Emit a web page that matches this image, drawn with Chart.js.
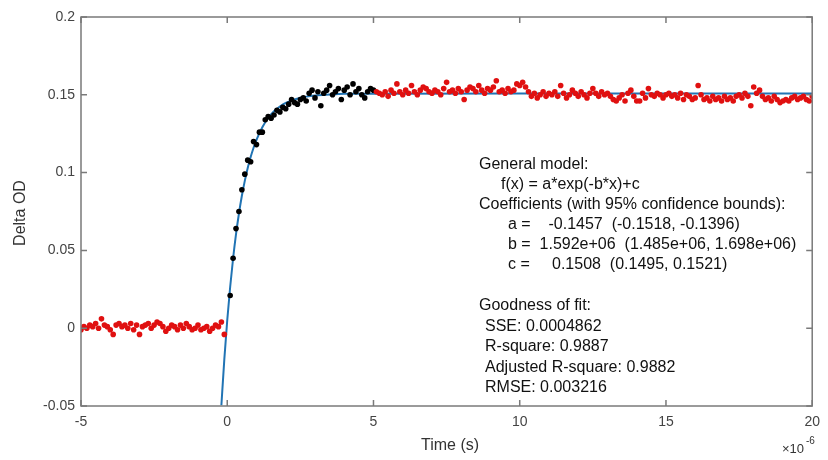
<!DOCTYPE html>
<html lang="en">
<head>
    <meta charset="UTF-8">
    <title>Delta OD fit</title>
    <script src="https://cdn.jsdelivr.net/npm/chart.js@4.4.0/dist/chart.umd.min.js"></script>
    <style>
        body { margin: 0; background: #fff; }
        #wrap { width: 828px; height: 460px; }
    </style>
</head>
<body>
    <div id="wrap"><canvas id="fitChart" width="828" height="460"></canvas></div>
    <script>
        // time in microseconds (axis shows x 10^-6 s)
        const tPre = [-5.0,-4.9,-4.8,-4.7,-4.6,-4.5,-4.4,-4.3,-4.2,-4.1,-4.0,-3.9,-3.8,-3.7,-3.6,-3.5,-3.4,-3.3,-3.2,-3.1,
            -3.0,-2.9,-2.8,-2.7,-2.6,-2.5,-2.4,-2.3,-2.2,-2.1,-2.0,-1.9,-1.8,-1.7,-1.6,-1.5,-1.4,-1.3,-1.2,-1.1,
            -1.0,-0.9,-0.8,-0.7,-0.6,-0.5,-0.4,-0.3,-0.2,-0.1];
        const odPre = [-0.001,0.001,0.000,0.002,0.001,0.003,0.000,0.006,0.002,0.001,
            -0.001,-0.004,0.002,0.003,0.001,0.002,0.000,0.003,-0.001,0.002,
            -0.004,0.001,0.002,0.003,0.000,0.002,0.004,0.003,0.001,-0.002,
            0.000,0.002,0.001,-0.001,0.002,0.000,0.003,0.001,-0.001,0.000,
            0.002,-0.001,0.000,0.001,-0.002,0.000,0.002,0.001,0.004,-0.004];

        const tFit = [0.1,0.2,0.3,0.4,0.5,0.6,0.7,0.8,0.9,1.0,1.1,1.2,1.3,1.4,1.5,1.6,1.7,1.8,1.9,2.0,
            2.1,2.2,2.3,2.4,2.5,2.6,2.7,2.8,2.9,3.0,3.1,3.2,3.3,3.4,3.5,3.6,3.7,3.8,3.9,4.0,
            4.1,4.2,4.3,4.4,4.5,4.6,4.7,4.8,4.9,5.0];
        const odFit = [0.021,0.045,0.064,0.075,0.089,0.099,0.108,0.107,0.120,0.118,
            0.126,0.126,0.134,0.136,0.135,0.137,0.140,0.139,0.142,0.141,
            0.144,0.147,0.145,0.144,0.147,0.148,0.146,0.151,0.153,0.148,
            0.152,0.143,0.151,0.153,0.156,0.150,0.152,0.154,0.147,0.153,
            0.155,0.150,0.157,0.152,0.154,0.150,0.148,0.152,0.154,0.153];

        const tPost = [5.1,5.2,5.3,5.4,5.5,5.6,5.7,5.8,5.9,6.0,6.1,6.2,6.3,6.4,6.5,6.6,6.7,6.8,6.9,7.0,
            7.1,7.2,7.3,7.4,7.5,7.6,7.7,7.8,7.9,8.0,8.1,8.2,8.3,8.4,8.5,8.6,8.7,8.8,8.9,9.0,
            9.1,9.2,9.3,9.4,9.5,9.6,9.7,9.8,9.9,10.0,10.1,10.2,10.3,10.4,10.5,10.6,10.7,10.8,10.9,11.0,
            11.1,11.2,11.3,11.4,11.5,11.6,11.7,11.8,11.9,12.0,12.1,12.2,12.3,12.4,12.5,12.6,12.7,12.8,12.9,13.0,
            13.1,13.2,13.3,13.4,13.5,13.6,13.7,13.8,13.9,14.0,14.1,14.2,14.3,14.4,14.5,14.6,14.7,14.8,14.9,15.0,
            15.1,15.2,15.3,15.4,15.5,15.6,15.7,15.8,15.9,16.0,16.1,16.2,16.3,16.4,16.5,16.6,16.7,16.8,16.9,17.0,
            17.1,17.2,17.3,17.4,17.5,17.6,17.7,17.8,17.9,18.0,18.1,18.2,18.3,18.4,18.5,18.6,18.7,18.8,18.9,19.0,
            19.1,19.2,19.3,19.4,19.5,19.6,19.7,19.8,19.9,20.0];
        const odPost = [0.152,0.151,0.150,0.152,0.149,0.153,0.151,0.157,0.152,0.150,
            0.153,0.151,0.156,0.152,0.150,0.153,0.155,0.154,0.152,0.151,
            0.153,0.152,0.150,0.154,0.158,0.152,0.153,0.151,0.154,0.152,
            0.147,0.153,0.155,0.154,0.152,0.156,0.153,0.151,0.154,0.153,
            0.155,0.159,0.152,0.153,0.151,0.154,0.152,0.153,0.157,0.156,
            0.158,0.155,0.152,0.149,0.151,0.148,0.150,0.152,0.149,0.151,
            0.150,0.152,0.149,0.156,0.151,0.148,0.150,0.153,0.151,0.149,
            0.152,0.150,0.148,0.151,0.154,0.151,0.149,0.152,0.150,0.151,
            0.149,0.147,0.146,0.148,0.150,0.146,0.151,0.153,0.149,0.146,
            0.146,0.151,0.148,0.154,0.150,0.149,0.151,0.150,0.148,0.150,
            0.151,0.149,0.150,0.148,0.151,0.147,0.150,0.149,0.147,0.148,
            0.156,0.150,0.147,0.148,0.146,0.149,0.147,0.148,0.146,0.149,
            0.147,0.148,0.146,0.149,0.150,0.148,0.151,0.149,0.143,0.155,
            0.151,0.153,0.149,0.147,0.148,0.146,0.149,0.147,0.145,0.146,
            0.147,0.146,0.148,0.149,0.147,0.148,0.149,0.147,0.146,0.149];

        // fitted curve f(x) = a*exp(-b*x)+c
        const tCurve = [-0.2,-0.1,0,0.1,0.2,0.3,0.4,0.5,0.6,0.7,0.8,0.9,1.0,1.2,1.4,1.6,1.8,2.0,2.5,3.0,3.5,4.0,5.0,10,15,20];
        const odCurve = [-0.0495,-0.0200,0.0051,0.0265,0.0448,0.0604,0.0737,0.0851,0.0947,0.1030,0.1100,0.1160,0.1211,
            0.1292,0.1351,0.1394,0.1425,0.1448,0.1481,0.1496,0.1502,0.1506,0.1507,0.1508,0.1508,0.1508];

        const xTicks = [-5, 0, 5, 10, 15, 20];
        const yTicks = [-0.05, 0, 0.05, 0.1, 0.15, 0.2];

        const fitText = [
            ['General model:', 479, 165],
            ['f(x) = a*exp(-b*x)+c', 501, 185],
            ['Coefficients (with 95% confidence bounds):', 479, 205],
            ['a =    -0.1457  (-0.1518, -0.1396)', 508, 225],
            ['b =  1.592e+06  (1.485e+06, 1.698e+06)', 508, 245],
            ['c =     0.1508  (0.1495, 0.1521)', 508, 265],
            ['Goodness of fit:', 479, 306],
            ['SSE: 0.0004862', 485, 327],
            ['R-square: 0.9887', 485, 347],
            ['Adjusted R-square: 0.9882', 485, 368],
            ['RMSE: 0.003216', 485, 388]
        ];

        function pts(xs, ys) {
            return xs.map((x, i) => ({ x: x, y: ys[i] }));
        }

        const FONT = '"Liberation Sans", Arial, sans-serif';
        const AXIS = '#7a7a7a';

        // box, inward ticks, axis titles and the fit report
        const decor = {
            id: 'decor',
            afterDraw(chart) {
                const ctx = chart.ctx;
                const a = chart.chartArea;
                const xs = chart.scales.x, ys = chart.scales.y;
                ctx.save();
                ctx.strokeStyle = AXIS;
                ctx.lineWidth = 1.5;
                ctx.strokeRect(a.left, a.top, a.right - a.left, a.bottom - a.top);
                ctx.beginPath();
                xTicks.forEach(v => {
                    const px = xs.getPixelForValue(v);
                    ctx.moveTo(px, a.bottom); ctx.lineTo(px, a.bottom - 6);
                    ctx.moveTo(px, a.top); ctx.lineTo(px, a.top + 6);
                });
                yTicks.forEach(v => {
                    const py = ys.getPixelForValue(v);
                    ctx.moveTo(a.left, py); ctx.lineTo(a.left + 6, py);
                    ctx.moveTo(a.right, py); ctx.lineTo(a.right - 6, py);
                });
                ctx.stroke();

                ctx.fillStyle = '#333';
                ctx.font = '16px ' + FONT;
                ctx.textAlign = 'center';
                ctx.textBaseline = 'middle';
                ctx.fillText('Time (s)', 450, 446);
                ctx.save();
                ctx.translate(21, 213);
                ctx.rotate(-Math.PI / 2);
                ctx.fillText('Delta OD', 0, 0);
                ctx.restore();

                ctx.textAlign = 'left';
                ctx.font = '13px ' + FONT;
                ctx.fillText('\u00d710', 782, 449);
                ctx.font = '10px ' + FONT;
                ctx.fillText('-6', 806, 441);

                ctx.fillStyle = '#111';
                ctx.font = '16px ' + FONT;
                fitText.forEach(r => ctx.fillText(r[0], r[1], r[2]));
                ctx.restore();
            }
        };

        new Chart(document.getElementById('fitChart').getContext('2d'), {
            type: 'scatter',
            data: {
                datasets: [
                    {
                        label: 'excluded',
                        data: pts(tPre, odPre).concat(pts(tPost, odPost)),
                        backgroundColor: '#e01010',
                        borderWidth: 0,
                        pointRadius: 2.8
                    },
                    {
                        label: 'fitted',
                        data: pts(tFit, odFit),
                        backgroundColor: '#000',
                        borderWidth: 0,
                        pointRadius: 2.8
                    },
                    {
                        label: 'fit',
                        type: 'line',
                        data: pts(tCurve, odCurve),
                        borderColor: '#2174b4',
                        borderWidth: 2,
                        pointRadius: 0,
                        cubicInterpolationMode: 'monotone',
                        fill: false
                    }
                ]
            },
            options: {
                responsive: false,
                animation: false,
                layout: { padding: { left: 0, top: 17, right: 12, bottom: 0 } },
                plugins: { legend: { display: false }, tooltip: { enabled: false } },
                scales: {
                    x: {
                        type: 'linear', min: -5, max: 20,
                        afterFit(s) { s.height = 54; },
                        afterBuildTicks(s) { s.ticks = xTicks.map(v => ({ value: v })); },
                        grid: { display: false, drawTicks: false },
                        border: { display: false },
                        ticks: { padding: 8, color: '#444', font: { family: FONT, size: 14 } }
                    },
                    y: {
                        type: 'linear', min: -0.05, max: 0.2,
                        afterFit(s) { s.width = 81; },
                        afterBuildTicks(s) { s.ticks = yTicks.map(v => ({ value: v })); },
                        grid: { display: false, drawTicks: false },
                        border: { display: false },
                        ticks: {
                            padding: 6, color: '#444', font: { family: FONT, size: 14 },
                            callback: v => String(+v.toFixed(2))
                        }
                    }
                }
            },
            plugins: [decor]
        });
    </script>
</body>
</html>
